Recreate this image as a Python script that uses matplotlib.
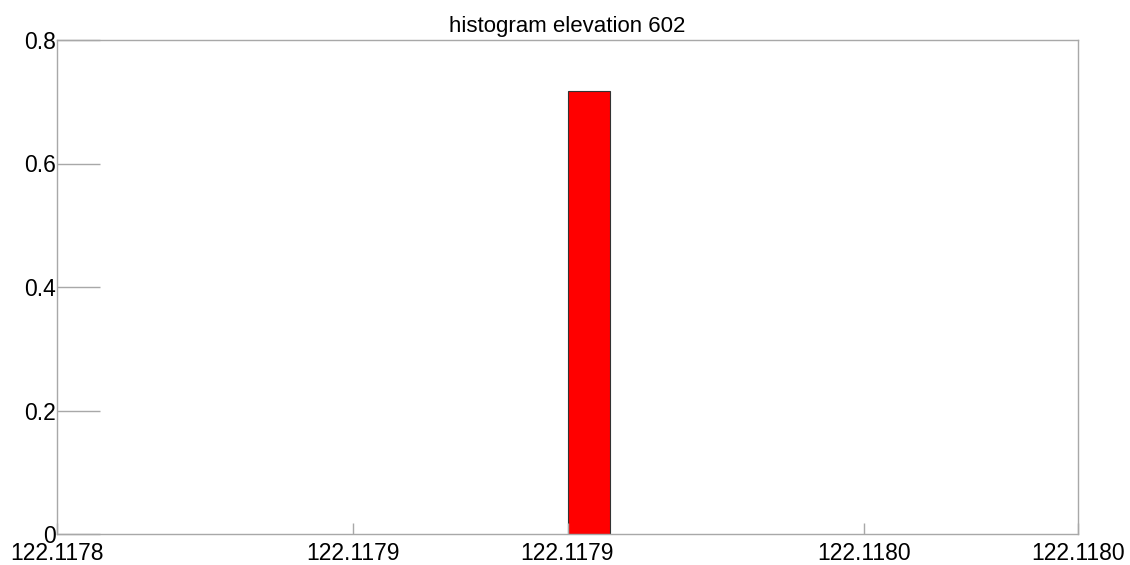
import matplotlib
matplotlib.use('Agg')
import matplotlib.pyplot as plt

# данные гистограммы
bin_left = [122.117900]
bin_width = [0.0000084]
bin_value = [0.717]

x_ticks = [122.117800, 122.117858, 122.117900, 122.117958, 122.118000]
x_labels = ['122.1178', '122.1179', '122.1179', '122.1180', '122.1180']
y_ticks = [0, 0.2, 0.4, 0.6, 0.8]
y_labels = ['0', '0.2', '0.4', '0.6', '0.8']

plt.rcParams['font.family'] = ['Liberation Sans', 'DejaVu Sans']

fig = plt.figure(figsize=(11.3, 5.65), dpi=100)
ax = fig.add_axes([57 / 1130, 1 - 534 / 565, (1078 - 57) / 1130, (534 - 40) / 565])

ax.bar(bin_left, bin_value, width=bin_width, align='edge',
       color='#ff0000', edgecolor='#333333', linewidth=0.8)

ax.set_xlim(x_ticks[0], x_ticks[-1])
ax.set_ylim(0, 0.8)
ax.set_xticks(x_ticks)
ax.set_xticklabels(x_labels, fontsize=16.5)
ax.set_yticks(y_ticks)
ax.set_yticklabels(y_labels, fontsize=16.5)

grey = '#a8a8a8'
for s in ax.spines.values():
    s.set_color(grey)
    s.set_linewidth(1.0)
ax.tick_params(axis='x', direction='in', length=8, width=1, color=grey,
               pad=6)
ax.tick_params(axis='y', direction='in', length=31, width=1, color=grey,
               pad=1)

ax.set_title('histogram elevation 602', fontsize=16, pad=6)

fig.savefig('out.png', dpi=100)
